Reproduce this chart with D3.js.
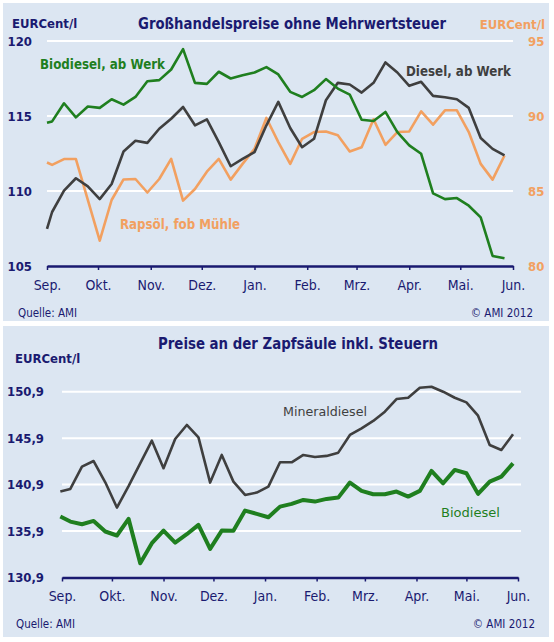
<!DOCTYPE html>
<html>
<head>
<meta charset="utf-8">
<script src="https://cdn.jsdelivr.net/npm/d3@7"></script>
<style>
  body { margin: 0; background: #fff; }
  svg text { font-family: "DejaVu Sans Condensed", "Liberation Sans Narrow", "DejaVu Sans", sans-serif; }
</style>
</head>
<body>
<div id="chart"></div>
<script>
// ---- data ----
var monthLabels = ['Sep.', 'Okt.', 'Nov.', 'Dez.', 'Jan.', 'Feb.', 'Mrz.', 'Apr.', 'Mai.', 'Jun.'];
var monthDates = d3.timeMonth.range(new Date(2011, 8, 1), new Date(2012, 5, 2));

// weekly quotes, top chart (Sundays) and bottom chart (Tuesdays)
var topWeeks = [new Date(2011, 8, 1), new Date(2011, 8, 4)]
    .concat(d3.timeSunday.range(new Date(2011, 8, 11), new Date(2012, 4, 28)));
var pumpWeeks = [new Date(2011, 7, 31), new Date(2011, 8, 6)]
    .concat(d3.timeTuesday.range(new Date(2011, 8, 13), new Date(2012, 4, 30)));

// Großhandel, EURCent/l (left axis)
var biodieselWerk = [114.55, 114.64, 115.85, 114.91, 115.63, 115.54, 116.12, 115.76, 116.27, 117.32,
    117.39, 118.10, 119.46, 117.21, 117.14, 117.95, 117.50, 117.72, 117.90, 118.26,
    117.77, 116.61, 116.27, 116.72, 117.46, 116.83, 116.43, 114.75, 114.67, 115.27,
    113.93, 113.04, 112.48, 109.84, 109.46, 109.53, 109.02, 108.24, 105.67, 105.51];
var dieselWerk = [107.47, 108.60, 110.02, 110.85, 110.31, 109.46, 110.47, 112.63, 113.35, 113.21,
    114.15, 114.82, 115.60, 114.38, 114.78, 113.26, 111.65, 112.14, 112.59, 114.38,
    115.94, 114.20, 112.92, 113.48, 116.05, 117.21, 117.10, 116.56, 117.21, 118.57,
    117.90, 117.01, 117.28, 116.34, 116.25, 116.12, 115.54, 113.53, 112.81, 112.37];
// Rapsöl, EURCent/l (right axis)
var rapsoel = [86.90, 86.74, 87.13, 87.13, 84.41, 81.69, 84.40, 85.77, 85.80, 84.90,
    85.80, 87.14, 84.36, 85.13, 86.29, 87.14, 85.76, 86.81, 87.81, 89.87,
    88.26, 86.81, 88.48, 88.93, 88.97, 88.71, 87.63, 87.92, 89.78, 88.08,
    88.93, 88.97, 90.31, 89.42, 90.38, 90.38, 88.93, 86.81, 85.76, 87.37];

// Zapfsäule, EURCent/l
var mineraldiesel = [140.15, 140.43, 142.84, 143.44, 141.15, 138.43, 140.74, 143.19, 145.63, 142.66,
    145.81, 147.32, 145.99, 141.12, 144.09, 141.22, 139.79, 140.04, 140.68, 143.30,
    143.30, 144.09, 143.87, 143.99, 144.34, 146.24, 146.96, 147.75, 148.75, 150.11,
    150.25, 151.33, 151.44, 150.90, 150.25, 149.75, 148.32, 145.17, 144.63, 146.31];
var biodieselPump = [137.46, 136.92, 136.63, 136.99, 135.85, 135.42, 137.21, 132.44, 134.59, 135.95,
    134.66, 135.56, 136.56, 133.98, 135.95, 135.92, 138.10, 137.75, 137.39, 138.53,
    138.82, 139.25, 139.07, 139.36, 139.50, 141.12, 140.22, 139.86, 139.86, 140.15,
    139.61, 140.22, 142.37, 141.04, 142.48, 142.12, 139.90, 141.22, 141.76, 143.19];

var leftTicks = [105, 110, 115, 120];
var rightTicks = [80, 85, 90, 95];
var pumpTicks = [130.9, 135.9, 140.9, 145.9, 150.9];

var colors = {
    panel: '#dce6f2',
    navy: '#1a1a70',
    green: '#1f7f1f',
    gray: '#3f3f3f',
    orange: '#f2a060'
};

var width = 554, height = 642;

var vis = d3.select('#chart').append('svg')
    .attr('width', width)
    .attr('height', height);

function text(g, x, y, s, o) {
    o = o || {};
    var t = g.append('text')
        .attr('x', x)
        .attr('y', y)
        .attr('dy', '0.36em')
        .attr('text-anchor', o.anchor || 'start')
        .attr('font-size', o.size || 13)
        .attr('font-weight', o.weight || 'normal')
        .attr('fill', o.fill || colors.navy)
        .text(s);
    if (o.len) t.attr('textLength', o.len).attr('lengthAdjust', 'spacingAndGlyphs');
    return t;
}

function monthAxis(g, x, y0, labelY) {
    var axis = g.append('g')
        .attr('transform', 'translate(0,' + y0 + ')')
        .call(d3.axisBottom(x).tickValues(monthDates).tickSize(4).tickSizeOuter(0)
            .tickFormat(function(d, i) { return monthLabels[i]; }));
    axis.attr('font-family', null).attr('font-size', null);
    axis.select('.domain').attr('stroke', colors.navy).attr('stroke-width', 2.5);
    axis.selectAll('.tick line').attr('stroke', colors.navy).attr('stroke-width', 1.5);
    axis.selectAll('.tick text')
        .attr('y', labelY)
        .attr('dy', 0)
        .attr('fill', colors.navy)
        .attr('font-size', 14);
}

function drawLine(g, dates, values, x, y, color, w) {
    g.append('path')
        .datum(values)
        .attr('d', d3.line()
            .x(function(d, i) { return x(dates[i]); })
            .y(function(d) { return y(d); }))
        .attr('fill', 'none')
        .attr('stroke', color)
        .attr('stroke-width', w)
        .attr('stroke-linejoin', 'round');
}

// ---------- top: Großhandelspreise ----------
var topG = vis.append('g');
topG.append('rect')
    .attr('x', 3).attr('y', 3).attr('width', 546).attr('height', 318)
    .attr('fill', colors.panel);

var x1 = d3.scaleTime().domain([new Date(2011, 8, 1), new Date(2012, 5, 1)]).range([47, 513]);
var yL = d3.scaleLinear().domain([105, 120]).range([266, 41]);
var yR = d3.scaleLinear().domain([80, 95]).range([266, 41]);

topG.selectAll('line.grid')
    .data(leftTicks.slice(1))
    .enter().append('line')
    .attr('x1', 47).attr('x2', 513)
    .attr('y1', yL).attr('y2', yL)
    .attr('stroke', '#fff').attr('stroke-width', 2);

monthAxis(topG, x1, 266, 24);

leftTicks.forEach(function(t) {
    text(topG, 32, yL(t), String(t), { anchor: 'end', weight: 'bold', size: 13 });
});
rightTicks.forEach(function(t) {
    text(topG, 528, yR(t), String(t), { weight: 'bold', size: 13, fill: colors.orange });
});

drawLine(topG, topWeeks, rapsoel, x1, yR, colors.orange, 2.6);
drawLine(topG, topWeeks, dieselWerk, x1, yL, colors.gray, 2.6);
drawLine(topG, topWeeks, biodieselWerk, x1, yL, colors.green, 2.6);

text(topG, 12, 23, 'EURCent/l', { weight: 'bold', size: 13 });
text(topG, 292, 24, 'Großhandelspreise ohne Mehrwertsteuer', { anchor: 'middle', weight: 'bold', size: 15, len: 308 });
text(topG, 545, 24, 'EURCent/l', { anchor: 'end', weight: 'bold', size: 13, fill: colors.orange });
text(topG, 40, 64, 'Biodiesel, ab Werk', { weight: 'bold', size: 13.5, fill: colors.green, len: 125 });
text(topG, 406, 71, 'Diesel, ab Werk', { weight: 'bold', size: 13.5, fill: colors.gray, len: 105 });
text(topG, 120, 224, 'Rapsöl, fob Mühle', { weight: 'bold', size: 13.5, fill: colors.orange, len: 120 });
text(topG, 18, 313, 'Quelle: AMI', { size: 11.5 });
text(topG, 533, 313, '© AMI 2012', { anchor: 'end', size: 11.5 });

// ---------- bottom: Preise an der Zapfsäule ----------
var bottomG = vis.append('g');
bottomG.append('rect')
    .attr('x', 3).attr('y', 326).attr('width', 546).attr('height', 311)
    .attr('fill', colors.panel);

var x2 = d3.scaleTime().domain([new Date(2011, 8, 1), new Date(2012, 5, 1)]).range([62, 518]);
var y2 = d3.scaleLinear().domain([130.9, 150.9]).range([577.5, 391.7]);

bottomG.selectAll('line.grid')
    .data(pumpTicks.slice(1))
    .enter().append('line')
    .attr('x1', 62).attr('x2', 521)
    .attr('y1', y2).attr('y2', y2)
    .attr('stroke', '#fff').attr('stroke-width', 2);

monthAxis(bottomG, x2, 577.5, 23.5);

pumpTicks.forEach(function(t) {
    text(bottomG, 44, y2(t), d3.format('.1f')(t).replace('.', ','), { anchor: 'end', weight: 'bold', size: 13 });
});

drawLine(bottomG, pumpWeeks, mineraldiesel, x2, y2, colors.gray, 2.6);
drawLine(bottomG, pumpWeeks, biodieselPump, x2, y2, colors.green, 4);

text(bottomG, 298, 344, 'Preise an der Zapfsäule inkl. Steuern', { anchor: 'middle', weight: 'bold', size: 15, len: 280 });
text(bottomG, 15, 358, 'EURCent/l', { weight: 'bold', size: 13 });
text(bottomG, 283, 411, 'Mineraldiesel', { size: 13, fill: colors.gray, len: 84 });
text(bottomG, 441, 512, 'Biodiesel', { size: 13, fill: colors.green, len: 59 });
text(bottomG, 16, 624, 'Quelle: AMI', { size: 11.5 });
text(bottomG, 535, 624, '© AMI 2012', { anchor: 'end', size: 11.5 });
</script>
</body>
</html>
